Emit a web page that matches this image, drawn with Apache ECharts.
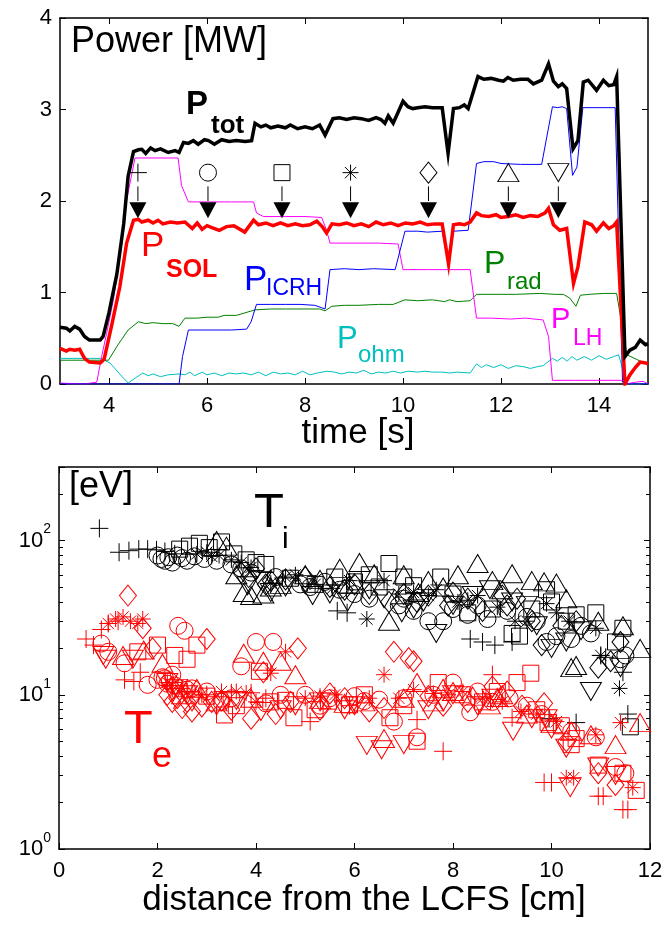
<!DOCTYPE html>
<html><head><meta charset="utf-8">
<script src="https://cdn.jsdelivr.net/npm/echarts@6/dist/echarts.min.js"></script>
<style>html,body{margin:0;padding:0;background:#fff}#c{width:667px;height:926px}</style>
</head><body><div id="c"></div>
<script>
// ---------- Top panel: power traces [time s, MW] ----------
const pTot = [[3.0,0.62],[3.13,0.61],[3.2,0.58],[3.3,0.63],[3.4,0.6],[3.5,0.52],[3.6,0.48],[3.82,0.48],[3.88,0.52],[4.0,0.78],[4.16,1.2],[4.3,1.75],[4.39,2.27],[4.5,2.54],[4.6,2.56],[4.67,2.565],[4.75,2.52],[4.85,2.58],[4.94,2.55],[5.05,2.57],[5.21,2.53],[5.35,2.55],[5.43,2.53],[5.52,2.64],[5.62,2.63],[5.72,2.66],[5.82,2.62],[5.95,2.67],[6.03,2.66],[6.15,2.62],[6.3,2.67],[6.45,2.65],[6.6,2.66],[6.78,2.65],[6.91,2.66],[6.98,2.85],[7.1,2.81],[7.2,2.83],[7.3,2.8],[7.45,2.82],[7.6,2.8],[7.7,2.83],[7.85,2.79],[8.0,2.81],[8.15,2.79],[8.3,2.83],[8.41,2.72],[8.57,2.9],[8.7,2.91],[8.85,2.89],[9.0,2.91],[9.15,2.9],[9.3,2.88],[9.45,2.91],[9.55,2.89],[9.63,2.85],[9.7,2.93],[9.8,2.85],[10.0,3.09],[10.1,3.03],[10.2,3.01],[10.3,3.02],[10.45,3.03],[10.6,3.02],[10.8,3.02],[10.92,2.52],[11.03,3.01],[11.15,3.02],[11.25,3.05],[11.33,3.01],[11.53,3.36],[11.65,3.33],[11.8,3.34],[11.95,3.32],[12.05,3.31],[12.14,3.35],[12.25,3.32],[12.4,3.33],[12.55,3.33],[12.66,3.28],[12.83,3.32],[12.97,3.5],[13.07,3.31],[13.17,3.25],[13.25,3.28],[13.34,3.23],[13.47,2.57],[13.57,2.66],[13.68,3.3],[13.78,3.32],[13.95,3.21],[14.09,3.32],[14.2,3.26],[14.3,3.27],[14.36,3.36],[14.53,0.3],[14.63,0.37],[14.74,0.4],[14.84,0.48],[14.95,0.43],[15.0,0.44]];
const pSol = [[3.0,0.39],[3.13,0.36],[3.2,0.38],[3.3,0.37],[3.4,0.38],[3.5,0.28],[3.6,0.24],[3.82,0.23],[3.9,0.27],[4.05,0.63],[4.22,1.06],[4.36,1.54],[4.5,1.79],[4.6,1.8],[4.67,1.77],[4.8,1.79],[4.9,1.76],[5.0,1.79],[5.1,1.75],[5.25,1.77],[5.4,1.76],[5.55,1.77],[5.7,1.7],[5.8,1.76],[5.9,1.69],[6.0,1.73],[6.1,1.71],[6.25,1.68],[6.4,1.72],[6.55,1.73],[6.77,1.66],[6.95,1.79],[7.05,1.74],[7.2,1.76],[7.35,1.73],[7.5,1.76],[7.65,1.73],[7.8,1.75],[7.95,1.73],[8.1,1.74],[8.24,1.78],[8.35,1.72],[8.44,1.65],[8.55,1.75],[8.7,1.74],[8.85,1.76],[9.0,1.73],[9.15,1.75],[9.3,1.72],[9.45,1.77],[9.6,1.74],[9.75,1.76],[9.9,1.73],[10.05,1.76],[10.2,1.75],[10.35,1.77],[10.5,1.74],[10.65,1.75],[10.8,1.75],[10.93,1.31],[11.03,1.74],[11.15,1.75],[11.25,1.74],[11.37,1.77],[11.5,1.87],[11.6,1.84],[11.75,1.83],[11.9,1.85],[12.0,1.82],[12.15,1.83],[12.3,1.85],[12.45,1.82],[12.6,1.84],[12.75,1.83],[12.9,1.87],[12.97,1.92],[13.07,1.74],[13.2,1.68],[13.34,1.7],[13.48,1.1],[13.57,1.28],[13.71,1.77],[13.85,1.74],[13.95,1.67],[14.09,1.76],[14.2,1.7],[14.3,1.73],[14.36,1.77],[14.53,0.0],[14.63,0.1],[14.74,0.18],[14.84,0.24],[14.95,0.23],[15.0,0.22]];
const pIcrh = [[3.0,0],[5.43,0],[5.5,0.3],[5.62,0.59],[6.0,0.59],[6.5,0.59],[6.81,0.6],[6.9,0.68],[7.01,0.87],[7.3,0.87],[7.6,0.87],[7.9,0.87],[8.2,0.86],[8.41,0.82],[8.51,1.25],[8.8,1.26],[9.1,1.25],[9.4,1.26],[9.84,1.25],[10.04,1.67],[10.3,1.67],[10.5,1.66],[10.8,1.67],[10.93,1.3],[11.03,1.67],[11.33,1.68],[11.5,2.41],[11.65,2.43],[11.85,2.43],[12.0,2.41],[12.4,2.4],[12.83,2.4],[13.05,3.03],[13.15,3.02],[13.25,3.03],[13.34,3.01],[13.46,2.28],[13.55,2.37],[13.67,3.02],[14.0,3.02],[14.33,3.02],[14.48,0.02],[14.6,0],[15.0,0]];
const pLh = [[3.0,0.01],[3.5,0.0],[3.75,0.02],[3.85,0.3],[3.95,0.55],[4.09,0.92],[4.25,1.5],[4.36,2.01],[4.53,2.47],[5.0,2.47],[5.41,2.47],[5.48,2.17],[5.62,1.99],[6.0,1.99],[6.5,1.99],[6.95,1.99],[7.01,1.87],[7.15,1.83],[7.6,1.83],[8.0,1.83],[8.34,1.82],[8.44,1.68],[8.51,1.54],[9.0,1.54],[9.5,1.54],[9.9,1.53],[10.0,1.25],[10.5,1.25],[11.0,1.25],[11.37,1.25],[11.5,0.72],[11.8,0.72],[12.2,0.71],[12.5,0.72],[12.86,0.7],[12.97,0.52],[13.05,0.04],[13.5,0.04],[14.0,0.04],[14.45,0.04],[14.55,0.0],[14.75,0.02],[14.9,0.03],[15.0,0.0]];
const pRad = [[3.0,0.26],[3.5,0.26],[3.99,0.26],[4.16,0.41],[4.39,0.59],[4.6,0.68],[4.75,0.66],[4.9,0.67],[5.1,0.66],[5.3,0.66],[5.43,0.63],[5.55,0.72],[5.8,0.72],[6.0,0.73],[6.23,0.73],[6.35,0.75],[6.6,0.75],[6.98,0.81],[7.3,0.82],[7.6,0.82],[8.0,0.82],[8.3,0.82],[8.41,0.8],[8.55,0.85],[8.8,0.86],[9.1,0.86],[9.5,0.87],[9.8,0.87],[10.04,0.92],[10.3,0.91],[10.6,0.92],[10.85,0.9],[10.95,0.92],[11.1,0.9],[11.37,0.91],[11.5,0.98],[11.9,0.98],[12.3,0.98],[12.8,0.99],[13.1,0.98],[13.27,0.98],[13.4,0.94],[13.53,0.85],[13.62,0.97],[13.8,0.98],[14.1,0.99],[14.36,0.99],[14.57,0.32],[14.84,0.25],[15.0,0.22]];
const pOhm = [[3.0,0.28],[3.5,0.28],[3.82,0.28],[4.02,0.23],[4.22,0.11],[4.39,0.01],[4.55,0.07],[4.69,0.12],[4.8,0.09],[4.9,0.11],[5.05,0.08],[5.2,0.1],[5.43,0.11],[5.55,0.1],[5.65,0.13],[5.75,0.09],[5.9,0.13],[6.0,0.1],[6.15,0.12],[6.3,0.09],[6.45,0.12],[6.6,0.11],[6.75,0.12],[6.9,0.1],[7.05,0.13],[7.2,0.09],[7.35,0.13],[7.5,0.11],[7.65,0.12],[7.8,0.1],[7.95,0.14],[8.1,0.1],[8.25,0.12],[8.45,0.14],[8.6,0.13],[8.75,0.11],[8.9,0.13],[9.05,0.12],[9.2,0.15],[9.35,0.11],[9.5,0.13],[9.65,0.12],[9.8,0.14],[9.95,0.12],[10.1,0.14],[10.3,0.13],[10.45,0.14],[10.6,0.13],[10.8,0.13],[10.95,0.12],[11.1,0.13],[11.37,0.12],[11.5,0.22],[11.6,0.18],[11.7,0.21],[11.85,0.18],[12.0,0.21],[12.15,0.17],[12.3,0.2],[12.45,0.19],[12.6,0.17],[12.75,0.19],[12.86,0.2],[13.05,0.28],[13.15,0.25],[13.25,0.29],[13.35,0.25],[13.45,0.3],[13.55,0.26],[13.7,0.3],[13.85,0.26],[14.0,0.31],[14.15,0.27],[14.3,0.3],[14.4,0.32],[14.57,0.0],[15.0,0.0]];

// Analysis time windows (marker times) and their marker kinds
const markTimes = [4.59, 6.02, 7.53, 8.93, 10.52, 12.15, 13.17];
const markKinds = ['plus','circle','square','star','diamond','triUp','triDown'];

// Tick labels
const topXTicks = [4, 6, 8, 10, 12, 14];
const logMinorTicks = [2,3,4,5,6,7,8,9,20,30,40,50,60,70,80,90,200];

// ---------- Bottom panel: temperatures [distance cm, eV] ----------
const tiPlus = [[0.82,120],[1.22,84],[1.42,86],[1.62,88],[1.8,88],[1.98,87],[2.15,85],[2.35,82],[5.65,35],[5.85,34],[8.35,23],[8.6,22],[8.85,21],[9.2,22],[9.95,7.0],[10.5,6.6],[11.0,18],[11.1,17.5],[11.45,14],[11.55,7.5]];
const tiCircle = [[2.0,80],[2.08,76],[2.15,74],[2.22,78],[2.3,72],[2.4,80],[2.5,77],[2.6,74],[2.75,79],[2.95,76],[3.2,74],[3.5,70],[3.7,66],[3.9,62],[4.4,58],[4.9,52],[5.1,50],[5.4,54],[5.7,48],[6.0,45],[6.3,42],[6.9,38],[7.0,42],[7.2,35],[7.5,30],[7.8,30],[8.0,36],[8.3,33],[8.5,38],[8.7,31],[9.1,35],[9.5,32],[9.7,30],[9.9,22],[10.1,24],[10.4,23],[10.6,28],[10.8,25],[11.4,17],[11.5,18]];
const tiSquare = [[2.45,88],[2.65,92],[2.85,96],[3.05,90],[3.3,98],[3.55,82],[3.8,75],[4.0,72],[4.2,70],[4.7,57],[5.2,52],[5.6,58],[6.0,54],[6.3,60],[6.5,50],[6.7,71],[7.0,58],[7.2,51],[7.75,58],[8.0,45],[8.3,34],[8.8,36],[9.2,25],[9.35,24],[9.6,36],[9.9,48],[10.0,40],[10.3,30],[10.5,33],[10.9,34],[11.3,22],[11.45,27],[11.6,6.2]];
const tiStar = [[2.8,82],[3.0,84],[3.1,79],[3.25,80],[3.5,75],[3.7,72],[3.9,67],[4.3,53],[4.6,58],[4.8,60],[5.2,52],[5.55,49],[5.9,55],[6.25,31],[6.6,55],[6.9,45],[7.2,46],[7.5,44],[7.66,48],[8.1,40],[8.3,41],[8.5,44],[8.9,37],[9.26,30],[9.5,30],[9.9,39],[10.1,34],[10.36,30],[10.9,27],[11.0,18],[11.38,11]];
const tiDiamond = [[3.7,62],[3.85,58],[4.0,66],[4.2,52],[4.3,55],[4.6,56],[5.0,58],[5.5,50],[5.8,48],[6.0,52],[6.3,45],[6.7,40],[7.0,45],[7.27,40],[7.5,44],[7.9,38],[8.0,46],[8.3,42],[8.6,35],[9.0,44],[9.1,38],[9.3,42],[9.6,30],[9.8,21],[10.2,28],[10.5,30],[10.95,15],[11.2,16.5],[11.4,22]];
const tiTriUp = [[3.2,100],[3.4,92],[3.6,60],[3.75,46],[3.9,44],[4.15,45],[4.3,50],[4.5,52],[5.0,60],[5.3,56],[5.7,66],[5.9,52],[6.1,72],[6.4,61],[6.7,30],[7.0,60],[7.3,46],[7.5,55],[7.8,50],[8.1,60],[8.5,71],[8.8,55],[9.0,48],[9.2,61],[9.6,55],[9.85,54],[10.1,53],[10.3,42],[10.4,15],[10.5,15.5],[10.95,30],[11.45,28],[11.8,20]];
const tiTriDown = [[3.83,51],[4.1,55],[4.3,46],[4.6,50],[5.0,52],[5.15,44],[5.5,45],[5.86,40],[6.3,48],[6.6,42],[6.96,34],[7.2,36],[7.4,40],[7.66,25],[8.0,38],[8.4,44],[8.75,48],[9.2,40],[9.5,38],[9.7,28],[10.0,20],[10.3,22],[10.6,26],[10.8,10.5],[11.4,15]];

const tePlus = [[0.55,23],[0.7,21],[0.86,26.5],[1.0,29],[1.2,30],[1.33,12.5],[1.52,12.2],[1.65,14],[2.3,11],[2.6,10.5],[3.0,10],[3.5,10.3],[3.9,10.3],[4.2,9.5],[5.1,6.7],[5.9,8.5],[7.27,6.9],[7.8,4.3],[8.8,13.5],[9.2,7.1],[9.85,2.7],[10.0,2.7],[10.95,2.2],[11.05,2.2],[11.45,1.8],[11.55,1.8]];
const teCircle = [[0.86,21.5],[1.0,19],[1.33,16],[1.8,11.6],[2.0,12.5],[2.1,13],[2.15,12.8],[2.2,11.8],[2.25,12.2],[2.3,13.5],[2.35,11.5],[2.42,28],[2.45,11],[2.55,26],[2.6,10.8],[2.7,11],[3.0,10.5],[3.3,9],[3.5,9.5],[3.7,15.3],[4.0,22],[4.2,8.8],[4.35,22],[4.5,10],[5.0,10],[5.3,8.5],[5.5,9.5],[6.0,9.8],[6.2,9.1],[6.5,9.3],[6.8,6.7],[7.0,9.5],[7.27,5.3],[7.6,10],[8.0,12],[8.35,7.7],[8.5,10.5],[8.8,9],[9.15,9.5],[9.5,8.5],[9.8,7.5],[10.4,5.8],[10.9,5.3],[11.3,3.4],[11.5,3.1]];
const teSquare = [[1.6,19],[2.0,21],[2.35,18],[2.6,17],[2.8,21],[3.0,9.8],[3.36,7.4],[3.6,8.5],[4.07,14.2],[4.3,9],[4.6,9.2],[4.77,7.1],[5.2,8],[5.47,9.1],[5.9,8.6],[6.2,10],[6.72,7.1],[7.0,8.5],[7.27,5],[7.7,12],[8.2,10],[8.6,9],[8.9,10.5],[9.3,12],[9.58,13.8],[9.7,8],[9.93,6.6],[10.2,6.3],[10.4,4.75],[10.5,5.2],[10.95,3.5],[11.45,3.1],[11.72,2.4]];
const teStar = [[1.0,29],[1.15,31],[1.3,32],[1.45,30],[1.6,29],[1.7,31],[2.2,12],[2.3,11.5],[2.5,11],[2.7,10.5],[2.9,10],[3.3,10.5],[3.6,10.5],[3.8,10.3],[4.0,9],[4.3,13.8],[4.6,19],[5.0,9.5],[5.3,9.8],[5.6,10],[6.3,9.5],[6.6,13.5],[6.9,9.5],[7.2,10.8],[7.6,10.2],[7.9,10],[8.2,10.5],[8.6,9.5],[9.0,9],[9.38,7.8],[9.7,7.5],[10.1,6.7],[10.3,2.9],[10.45,2.9],[10.9,5.5],[11.4,6.6],[11.65,2.5]];
const teDiamond = [[1.4,44],[1.7,27],[1.9,20],[2.2,10],[2.3,9],[2.4,9.5],[2.5,8.2],[2.6,9],[2.7,7.8],[2.9,8.4],[3.0,23],[3.1,9],[3.3,9.2],[3.5,8],[3.9,7],[4.15,14],[4.4,7.5],[4.7,9],[4.85,20],[5.3,8],[5.5,10.2],[5.8,9.5],[6.3,7.8],[6.6,8.2],[6.8,19],[7.1,17.3],[7.2,16.5],[7.5,9.8],[7.8,8.5],[8.3,9],[8.8,11.3],[9.1,10.5],[9.4,8.5],[9.85,8.8],[10.3,5],[10.95,3.1],[11.3,2.6]];
const teTriUp = [[1.3,18],[1.72,19.5],[2.1,16],[2.5,10],[2.8,11],[3.2,9],[3.75,18.6],[3.9,9.5],[4.15,16.5],[4.5,16.5],[4.8,13.5],[5.3,9.3],[5.8,8.8],[6.2,9],[6.6,5.2],[7.0,9.5],[7.27,12],[7.6,9],[7.8,11],[8.0,10.5],[8.4,9.8],[8.75,8.6],[8.9,9.6],[9.0,10],[9.5,7.5],[10.0,6.5],[10.4,5.8],[10.8,5.5],[11.3,4.75],[11.8,6.6]];
const teTriDown = [[0.9,18],[0.95,17],[1.5,17],[2.2,12],[2.3,10.5],[2.4,11],[2.6,10],[2.7,9],[3.2,8.5],[3.6,9.2],[4.1,7.8],[4.5,8],[4.8,8.5],[5.3,9],[5.8,8],[6.0,8.5],[6.25,4.7],[6.55,4.4],[7.0,4.75],[7.5,8],[7.8,9],[8.0,10],[8.5,8.5],[8.8,9.5],[9.22,5.8],[9.6,7],[9.9,7],[10.0,6],[10.3,4.5],[10.38,2.5],[10.95,3.4],[11.3,3.0]];

// ---------- styling ----------
const FONT = '"Liberation Sans", Arial, Helvetica, sans-serif';
const C = {black:'#000000', red:'#ff0000', blue:'#0000ff', green:'#008000', cyan:'#00bfbf', magenta:'#ff00ff'};
const SYM = {
  plus:   {symbol:'path://M5,0V10M0,5H10', size:18, rot:0},
  circle: {symbol:'circle', size:17, rot:0},
  square: {symbol:'rect', size:16, rot:0},
  star:   {symbol:'path://M5,0V10M0,5H10M1.46,1.46L8.54,8.54M8.54,1.46L1.46,8.54', size:16, rot:0},
  diamond:{symbol:'diamond', size:[17,21], rot:0},
  triUp:  {symbol:'triangle', size:[21,18], rot:0},
  triDown:{symbol:'triangle', size:[21,18], rot:180}
};

function lineS(data, color, width, z) {
  return {type:'line', xAxisIndex:0, yAxisIndex:0, data, showSymbol:false, symbol:'none',
    lineStyle:{color, width, join:'miter'}, z, silent:true, animation:false, clip:true};
}
function scat(data, kind, color) {
  const s = SYM[kind];
  return {type:'scatter', xAxisIndex:2, yAxisIndex:2, data, symbol:s.symbol, symbolSize:s.size,
    symbolRotate:s.rot, itemStyle:{color:'rgba(0,0,0,0)', borderColor:color, borderWidth:1, opacity:1},
    silent:true, animation:false, z:3};
}

const tickStyle = {show:true, inside:true, length:6, lineStyle:{color:'#000', width:1}};
const lineStyleAx = {show:true, onZero:false, lineStyle:{color:'#000', width:1.5}};
const labelStyle = {color:'#000', fontSize:22, fontFamily:FONT};

const xAxes = [
  {gridIndex:0, type:'value', min:3, max:15, position:'bottom', axisLine:lineStyleAx,
   axisTick:Object.assign({customValues:topXTicks}, tickStyle),
   axisLabel:Object.assign({customValues:topXTicks, margin:11}, labelStyle), splitLine:{show:false}},
  {gridIndex:0, type:'value', min:3, max:15, position:'top', axisLine:lineStyleAx,
   axisTick:Object.assign({customValues:topXTicks}, tickStyle), axisLabel:{show:false}, splitLine:{show:false}},
  {gridIndex:1, type:'value', min:0, max:12, interval:2, position:'bottom', axisLine:lineStyleAx,
   axisTick:tickStyle, axisLabel:Object.assign({margin:11}, labelStyle), splitLine:{show:false}},
  {gridIndex:1, type:'value', min:0, max:12, interval:2, position:'top', axisLine:lineStyleAx,
   axisTick:tickStyle, axisLabel:{show:false}, splitLine:{show:false}}
];
const logTop = Math.log10(300);
const minorPos = logMinorTicks.map(v => Math.log10(v));
const yAxes = [
  {gridIndex:0, type:'value', min:0, max:4, interval:1, position:'left', axisLine:lineStyleAx,
   axisTick:tickStyle, axisLabel:Object.assign({margin:8}, labelStyle), splitLine:{show:false}},
  {gridIndex:0, type:'value', min:0, max:4, interval:1, position:'right', axisLine:lineStyleAx,
   axisTick:tickStyle, axisLabel:{show:false}, splitLine:{show:false}},
  {gridIndex:1, type:'log', logBase:10, min:1, max:300, position:'left', axisLine:lineStyleAx,
   axisTick:tickStyle, splitLine:{show:false}, minorTick:{show:false},
   axisLabel:{margin:8, color:'#000', fontFamily:FONT,
     formatter: v => { const l = Math.log10(v); const e = Math.round(l);
       if (Math.abs(l - e) > 1e-6) return ''; return '{a|10}{b|' + e + '}'; },
     rich:{a:{fontSize:22, fontFamily:FONT, color:'#000', lineHeight:36},
           b:{fontSize:14, fontFamily:FONT, color:'#000', lineHeight:14, verticalAlign:'top'}}}},
  {gridIndex:1, type:'log', logBase:10, min:1, max:300, position:'right', axisLine:lineStyleAx,
   axisTick:tickStyle, axisLabel:{show:false}, splitLine:{show:false}},
  {gridIndex:1, type:'value', min:0, max:logTop, position:'left', axisLine:{show:false, onZero:false},
   axisTick:{show:true, inside:true, length:4, customValues:minorPos, lineStyle:{color:'#000', width:1}},
   axisLabel:{show:false}, splitLine:{show:false}},
  {gridIndex:1, type:'value', min:0, max:logTop, position:'right', axisLine:{show:false, onZero:false},
   axisTick:{show:true, inside:true, length:4, customValues:minorPos, lineStyle:{color:'#000', width:1}},
   axisLabel:{show:false}, splitLine:{show:false}}
];

// top-panel marker glyphs + arrows
const markerData = markTimes.map((t, i) => {
  const s = SYM[markKinds[i]];
  return {value:[t, 2.31], symbol:s.symbol, symbolSize:s.size, symbolRotate:s.rot};
});
const stemData = [];
markTimes.forEach(t => { stemData.push([t, 2.16], [t, 2.0], [t, '-']); });
const headData = markTimes.map(t => [t, 1.9]);

const series = [
  lineS(pOhm, C.cyan, 1, 2),
  lineS(pRad, C.green, 1, 2),
  lineS(pLh, C.magenta, 1, 2),
  lineS(pIcrh, C.blue, 1, 2),
  lineS(pSol, C.red, 3.5, 3),
  lineS(pTot, C.black, 3.5, 4),
  {type:'scatter', xAxisIndex:0, yAxisIndex:0, data:markerData,
   itemStyle:{color:'rgba(0,0,0,0)', borderColor:'#000', borderWidth:1, opacity:1}, silent:true, animation:false, z:5},
  {type:'line', xAxisIndex:0, yAxisIndex:0, data:stemData, showSymbol:false, symbol:'none', connectNulls:false,
   lineStyle:{color:'#000', width:1}, silent:true, animation:false, z:5},
  {type:'scatter', xAxisIndex:0, yAxisIndex:0, data:headData, symbol:'triangle', symbolRotate:180,
   symbolSize:[17,16], itemStyle:{color:'#000', opacity:1}, silent:true, animation:false, z:6},
  scat(tiPlus,'plus',C.black), scat(tiCircle,'circle',C.black), scat(tiSquare,'square',C.black),
  scat(tiStar,'star',C.black), scat(tiDiamond,'diamond',C.black), scat(tiTriUp,'triUp',C.black),
  scat(tiTriDown,'triDown',C.black),
  scat(tePlus,'plus',C.red), scat(teCircle,'circle',C.red), scat(teSquare,'square',C.red),
  scat(teStar,'star',C.red), scat(teDiamond,'diamond',C.red), scat(teTriUp,'triUp',C.red),
  scat(teTriDown,'triDown',C.red)
];

function txt(x, y, s, size, color, weight, align) {
  return {type:'text', x, y, silent:true, z:10,
    style:{text:s, fill:color, fontSize:size, fontFamily:FONT, fontWeight:weight || 'normal',
      align:align || 'left', verticalAlign:'middle', textAlign:align || 'left', textVerticalAlign:'middle'}};
}
const graphics = [
  txt(71, 42, 'Power [MW]', 36, C.black),
  txt(186, 105, 'P', 33, C.black, 'bold'), txt(211, 126, 'tot', 26, C.black, 'bold'),
  txt(141, 246, 'P', 35, C.red), txt(166, 270, 'SOL', 25, C.red, 'bold'),
  txt(244, 280, 'P', 35, C.blue), txt(266, 289, 'ICRH', 23, C.blue),
  txt(484, 264, 'P', 32, C.green), txt(507, 282, 'rad', 24, C.green),
  txt(337, 339, 'P', 31, C.cyan), txt(358, 355, 'ohm', 24, C.cyan),
  txt(551, 320, 'P', 29, C.magenta), txt(573, 339, 'LH', 23, C.magenta),
  txt(358, 433, 'time [s]', 35, C.black, 'normal', 'center'),
  txt(69, 487, '[eV]', 36, C.black),
  txt(254, 513, 'T', 49, C.black), txt(282, 540, 'i', 30, C.black),
  txt(124, 730, 'T', 47, C.red), txt(152, 757, 'e', 36, C.red),
  txt(364, 900, 'distance from the LCFS [cm]', 35, C.black, 'normal', 'center')
];

const chart = echarts.init(document.getElementById('c'), null, {renderer:'canvas'});
chart.setOption({
  animation:false,
  backgroundColor:'#ffffff',
  grid:[{left:60, top:18, width:588, height:366}, {left:59, top:467, width:591, height:382}],
  xAxis:xAxes, yAxis:yAxes, series, graphic:graphics
});
</script></body></html>
